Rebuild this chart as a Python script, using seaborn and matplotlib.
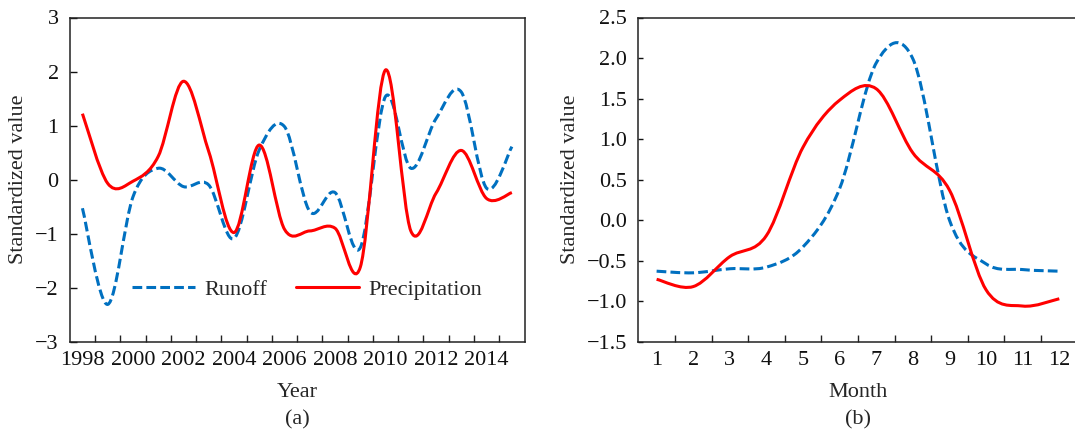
import numpy as np
import matplotlib
matplotlib.use("Agg")
import matplotlib.pyplot as plt
from matplotlib.path import Path
from matplotlib.patches import PathPatch
from matplotlib.lines import Line2D
import seaborn as sns

# Annual series (standardized)
years = list(range(1998, 2016))
runoff_annual = [-0.53, -2.31, -0.32, 0.21, -0.13, -0.10, -1.09, 0.55, 0.98,
                 -0.59, -0.24, -1.26, 1.54, 0.21, 1.13, 1.62, -0.16, 0.61]
precip_annual = [1.22, -0.07, -0.03, 0.43, 1.82, 0.52, -0.98, 0.64, -0.92,
                 -0.95, -0.90, -1.62, 2.03, -0.95, -0.25, 0.54, -0.35, -0.24]
year_labels = [1998, 2000, 2002, 2004, 2006, 2008, 2010, 2012, 2014]

# Monthly series (standardized)
months = list(range(1, 13))
runoff_monthly = [-0.63, -0.65, -0.60, -0.58, -0.33, 0.39, 1.94, 1.99, 0.00,
                  -0.54, -0.61, -0.63]
precip_monthly = [-0.73, -0.82, -0.45, -0.19, 0.90, 1.48, 1.62, 0.83, 0.37,
                  -0.86, -1.06, -0.97]

BLUE = "#0070C0"
RED = "#FF0000"
LW = 2.2
DASH = (0, (7.0, 3.0))

sns.set_theme(style="ticks")
plt.rcParams["font.family"] = ["Liberation Serif", "DejaVu Serif"]
plt.rcParams["lines.scale_dashes"] = False
FS = 16


def smooth_path(x, y):
    """Bezier curve through the points (Catmull-Rom style tangents)."""
    pts = np.column_stack([x, y]).astype(float)
    n = len(pts)
    verts = [pts[0]]
    codes = [Path.MOVETO]
    for i in range(n - 1):
        p0 = pts[i - 1] if i > 0 else pts[i]
        p1 = pts[i]
        p2 = pts[i + 1]
        p3 = pts[i + 2] if i + 2 < n else pts[i + 1]
        verts += [p1 + (p2 - p0) / 6.0, p2 - (p3 - p1) / 6.0, p2]
        codes += [Path.CURVE4] * 3
    return Path(verts, codes)


def draw_curve(ax, x, y, color, ls):
    patch = PathPatch(smooth_path(x, y), facecolor="none", edgecolor=color,
                      linewidth=LW, linestyle=ls, capstyle="butt",
                      joinstyle="round", zorder=3)
    ax.add_patch(patch)


def style_axes(ax, ytick_len):
    for sp in ax.spines.values():
        sp.set_linewidth(1.1)
        sp.set_color("#222222")
    ax.tick_params(axis="x", which="major", length=0, pad=7.0,
                   labelsize=FS, colors="#111111")
    ax.tick_params(axis="x", which="minor", direction="in", length=5,
                   width=1.0, color="#222222")
    ax.tick_params(axis="y", which="major", direction="in", length=ytick_len,
                   width=1.0, pad=8.0, labelsize=FS, colors="#111111")
    ax.tick_params(axis="y", which="minor", length=0)


fig = plt.figure(figsize=(10.75, 4.32), dpi=100)
W, H = 1075.0, 432.0

# ---- (a) annual ----
ax1 = fig.add_axes([69.8 / W, 1 - 341.7 / H, (524.5 - 69.8) / W, (341.7 - 17.5) / H])
draw_curve(ax1, years, runoff_annual, BLUE, DASH)
draw_curve(ax1, years, precip_annual, RED, "-")
ax1.set_xlim(1997.5, 2015.5)
ax1.set_ylim(-3, 3)
ax1.set_xticks(year_labels)
ax1.set_xticklabels([str(y) for y in year_labels])
ax1.set_xticks(np.arange(1998.5, 2015.0, 1.0), minor=True)
ax1.set_yticks(range(-3, 4))
style_axes(ax1, 5)
ax1.set_xlabel("Year", fontsize=FS)
ax1.xaxis.label.set_va("center")
ax1.xaxis.set_label_coords(0.5, -0.158)
ax1.set_ylabel("Standardized value", fontsize=FS)
ax1.yaxis.label.set_va("center")
ax1.yaxis.set_label_coords((18.0 - 69.8) / (524.5 - 69.8), 0.5)
ax1.text(0.5, -0.2415, "(a)", transform=ax1.transAxes, ha="center",
         va="center", fontsize=FS)

handles = [Line2D([], [], color=BLUE, lw=LW, linestyle=DASH),
           Line2D([], [], color=RED, lw=LW)]
ax1.legend(handles, ["Runoff", "Precipitation"], ncol=2, frameon=False,
           loc="center left", bbox_to_anchor=((131.7 - 69.8) / (524.5 - 69.8), 0.1616),
           borderpad=0, borderaxespad=0, handlelength=2.85, handletextpad=0.4,
           columnspacing=1.3, fontsize=FS)

# ---- (b) monthly ----
ax2 = fig.add_axes([638.3 / W, 1 - 341.7 / H, (1077.6 - 638.3) / W, (341.7 - 17.5) / H])
draw_curve(ax2, months, runoff_monthly, BLUE, DASH)
draw_curve(ax2, months, precip_monthly, RED, "-")
ax2.set_xlim(0.5, 12.5)
ax2.set_ylim(-1.5, 2.5)
ax2.set_xticks(months)
ax2.set_xticklabels([str(m) for m in months])
ax2.set_xticks(np.arange(1.5, 12.0, 1.0), minor=True)
ytv = np.arange(-1.5, 2.51, 0.5)
ax2.set_yticks(ytv)
ax2.set_yticklabels([f"{v:.1f}".replace("-", "\u2212") for v in ytv])
style_axes(ax2, 3.5)
ax2.set_xlabel("Month", fontsize=FS)
ax2.xaxis.label.set_va("center")
ax2.xaxis.set_label_coords((858 - 638.3) / (1077.6 - 638.3), -0.158)
ax2.set_ylabel("Standardized value", fontsize=FS)
ax2.yaxis.label.set_va("center")
ax2.yaxis.set_label_coords((570.7 - 638.3) / (1077.6 - 638.3), 0.5)
ax2.text((858 - 638.3) / (1077.6 - 638.3), -0.2415, "(b)", transform=ax2.transAxes,
         ha="center", va="center", fontsize=FS)

fig.savefig("out.png", dpi=100)
